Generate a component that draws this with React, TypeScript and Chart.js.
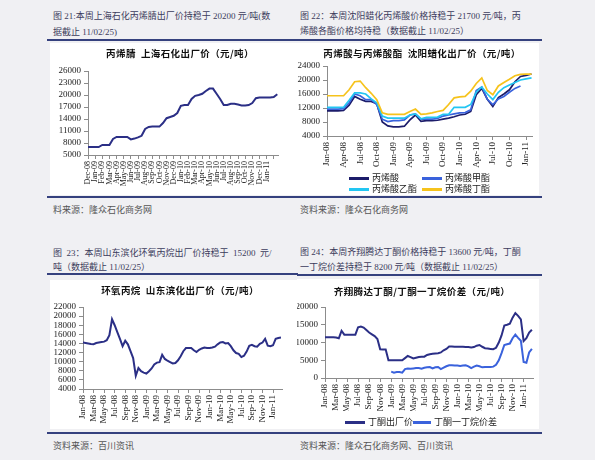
import React, { useEffect, useRef } from 'react';
import { Chart, registerables } from 'chart.js';

Chart.register(...registerables);

// ---------- Chart 1: 丙烯腈 上海石化出厂价 (half-month points from Dec-08) ----------
const C1_LABELS = ['Dec-08', 'Jan-09', 'Feb-09', 'Mar-09', 'Apr-09', 'May-09', 'Jun-09', 'Jul-09', 'Aug-09', 'Sep-09', 'Oct-09', 'Nov-09', 'Dec-09', 'Jan-10', 'Feb-10', 'Mar-10', 'Apr-10', 'May-10', 'Jun-10', 'Jul-10', 'Aug-10', 'Sep-10', 'Oct-10', 'Nov-10', 'Dec-10', 'Jan-11'];
const C1_ACN = [7000, 7000, 7000, 7000, 7500, 7500, 7500, 9000, 9500, 9500, 9500, 9500, 8900, 9100, 9400, 9800, 11500, 12000, 12100, 12100, 12100, 13000, 14200, 14500, 14800, 15500, 17300, 17500, 17500, 19000, 19800, 20000, 20300, 21000, 21600, 21600, 20300, 19000, 17500, 17500, 17800, 17800, 17600, 17400, 17400, 17500, 18000, 19200, 19400, 19400, 19400, 19400, 19500, 20200];

// ---------- Chart 2: 丙烯酸与丙烯酸酯 (monthly points from Jan-08) ----------
const C2_LABELS = ['Jan-08', 'Apr-08', 'Jul-08', 'Oct-08', 'Jan-09', 'Apr-09', 'Jul-09', 'Oct-09', 'Jan-10', 'Apr-10', 'Jul-10', 'Oct-10', 'Jan-11'];
const C2_AA = [11200, 11200, 11200, 11300, 12800, 15300, 14500, 13900, 13900, 13200, 8000, 6900, 6600, 6600, 6800, 8600, 10000, 8200, 8400, 8400, 8500, 8800, 9100, 9500, 10000, 10200, 11000, 15800, 17600, 14500, 12400, 15000, 16000, 17200, 19500, 21000, 21300, 21700];
const C2_MA = [11700, 11700, 11700, 11800, 13500, 16000, 15500, 14400, 14400, 13000, 8800, 8100, 8400, 8400, 8600, 10000, 10300, 8800, 8800, 8800, 9000, 9700, 10000, 10300, 10600, 10700, 11500, 17000, 18000, 14500, 13000, 14600, 15300, 16500, 17600, 18300, null, null];
const C2_EA = [12200, 12200, 12200, 12200, 14200, 16300, 16300, 16000, 14600, 13500, 9700, 9100, 9100, 9100, 9100, 10000, 10300, 8900, 9300, 9300, 9400, 10200, 10200, 12200, 12200, 12200, 13000, 16500, 18000, 16000, 14400, 16500, 17800, 18600, 19300, 20000, 20300, 20600];
const C2_BA = [15500, 15500, 15500, 15500, 17200, 19500, 19700, 17800, 16200, 14400, 10600, 10200, 10200, 10200, 10200, 11000, 11700, 10200, 10300, 10600, 11000, 11300, 13000, 14900, 15200, 15300, 16800, 19000, 20600, 17000, 15800, 18300, 19300, 20200, 21200, 21600, 21700, 21700];

// ---------- Chart 3: 环氧丙烷 山东滨化出厂价 (half-month points from Jan-08) ----------
const C3_LABELS = ['Jan-08', 'Mar-08', 'May-08', 'Jul-08', 'Sep-08', 'Nov-08', 'Jan-09', 'Mar-09', 'May-09', 'Jul-09', 'Sep-09', 'Nov-09', 'Jan-10', 'Mar-10', 'May-10', 'Jul-10', 'Sep-10', 'Nov-10', 'Jan-11'];
const C3_PO = [14200, 14100, 14000, 13900, 13850, 14100, 14200, 14300, 14400, 14700, 15800, 19300, 18000, 16500, 15000, 13400, 14600, 13800, 12300, 10800, 6900, 8600, 7900, 7600, 7400, 7900, 8500, 9400, 9800, 9900, 11500, 10600, 10200, 9900, 9600, 9700, 10300, 11200, 12300, 13000, 13000, 13000, 12500, 12100, 12600, 12900, 13100, 13000, 13000, 13100, 13300, 13800, 14200, 14300, 14000, 14100, 13400, 12500, 11900, 11700, 11000, 11300, 12200, 13500, 13700, 13400, 13300, 13900, 14200, 15000, 13500, 13400, 13600, 15000, 15200, 15300];

// ---------- Chart 4: 齐翔腾达丁酮 / 丁酮一丁烷价差 (half-month points from Jan-08) ----------
const C4_LABELS = C3_LABELS;
const C4_MEK = [11500, 11500, 11500, 11500, 11400, 11200, 13300, 12200, 12200, 12200, 12200, 12200, 14300, 14500, 14200, 13500, 12800, 12300, 11800, 11000, 8100, 8000, 8000, 5000, 5000, 5000, 5000, 5000, 5000, 5600, 6200, 5900, 5500, 5700, 5900, 6000, 6000, 6500, 6700, 6800, 6900, 7000, 7200, 7800, 8200, 8900, 8900, 8800, 8800, 8800, 8800, 8700, 8700, 8600, 8700, 9100, 9300, 8800, 8400, 8300, 8200, 8100, 8500, 10000, 12000, 14800, 15000, 15300, 17000, 18300, 17500, 16500, 10400, 11200, 12800, 13600];
const C4_SPREAD = [null, null, null, null, null, null, null, null, null, null, null, null, null, null, null, null, null, null, null, null, null, null, null, null, 1800, 1500, 1700, 1700, 1500, 2500, 2700, 2600, 2700, 2800, 2800, 2600, 2900, 3000, 3100, 2700, 3000, 3100, 2500, 2900, 3300, 3600, 3600, 3500, 3500, 3400, 3500, 3600, 3300, 2800, 3200, 3500, 3300, 3000, 3100, 3100, 3100, 3200, 3700, 5000, 7000, 9300, 9500, 9700, 11200, 12200, 11300, 10500, 4500, 4300, 7200, 8200];

const NAVY = '#2b2f86';
const DARK_NAVY = '#1c1c6a';
const MID_BLUE = '#3a62dc';
const CYAN = '#22c6f2';
const GOLD = '#f6c31c';
const RULE = '#35417e';
const SERIF = "'Liberation Serif', 'Noto Sans CJK SC', serif";
const CJK = "'Noto Sans CJK SC', 'Liberation Sans', sans-serif";

type Series = { label: string; data: (number | null)[]; color: string; width: number };
type Cfg = {
  left: number; top: number; width: number; height: number;
  pad: { top: number; right: number; bottom: number; left: number };
  yWidth: number; xHeight: number;
  yMin: number; yMax: number; yStep: number;
  xMax: number; xStep: number; xLabels: string[]; dx: number; xFont: number;
  series: Series[];
};

function LineChart({ cfg }: { cfg: Cfg }) {
  const ref = useRef<HTMLCanvasElement>(null);
  useEffect(() => {
    const axisColor = '#8c8c8c';
    const serifTicks = "'Liberation Serif', 'Times New Roman', serif";
    const chart = new Chart(ref.current as HTMLCanvasElement, {
      type: 'line',
      data: {
        datasets: cfg.series.map((s) => ({
          label: s.label,
          data: s.data.map((v, i) => ({ x: i * cfg.dx, y: v })),
          borderColor: s.color,
          backgroundColor: s.color,
          borderWidth: s.width,
          pointRadius: 0,
          tension: 0,
          fill: false,
          spanGaps: false,
        })),
      },
      options: {
        animation: false,
        responsive: false,
        maintainAspectRatio: false,
        layout: { padding: cfg.pad },
        plugins: { legend: { display: false }, title: { display: false }, tooltip: { enabled: false } },
        scales: {
          x: {
            type: 'linear',
            min: 0,
            max: cfg.xMax,
            afterFit: (s: any) => { s.height = cfg.xHeight; },
            grid: { display: true, drawOnChartArea: false, drawTicks: true, tickLength: 4, color: axisColor },
            border: { display: true, color: axisColor },
            ticks: {
              stepSize: cfg.xStep,
              autoSkip: false,
              includeBounds: false,
              minRotation: 90,
              maxRotation: 90,
              padding: 2,
              color: '#222',
              font: { family: serifTicks, size: cfg.xFont },
              callback: (v: any) => cfg.xLabels[Math.round(Number(v) / cfg.xStep)] ?? '',
            },
          },
          y: {
            type: 'linear',
            min: cfg.yMin,
            max: cfg.yMax,
            afterFit: (s: any) => { s.width = cfg.yWidth; },
            grid: { display: true, drawOnChartArea: false, drawTicks: true, tickLength: 4, color: axisColor },
            border: { display: true, color: axisColor },
            ticks: {
              stepSize: cfg.yStep,
              autoSkip: false,
              padding: 3,
              color: '#222',
              font: { family: serifTicks, size: 9 },
              callback: (v: any) => String(v),
            },
          },
        },
      } as any,
    });
    return () => chart.destroy();
  }, [cfg]);
  return (
    <canvas
      ref={ref}
      width={cfg.width}
      height={cfg.height}
      style={{ position: 'absolute', left: cfg.left, top: cfg.top, width: cfg.width, height: cfg.height }}
    />
  );
}

const CFG1: Cfg = {
  left: 50, top: 43, width: 247, height: 152,
  pad: { top: 28, right: 19, bottom: 0, left: 0 }, yWidth: 38, xHeight: 40,
  yMin: 5000, yMax: 26000, yStep: 3000,
  xMax: 26.6, xStep: 1, xLabels: C1_LABELS, dx: 0.5, xFont: 8,
  series: [{ label: '丙烯腈', data: C1_ACN, color: NAVY, width: 2 }],
};
const CFG2: Cfg = {
  left: 297, top: 43, width: 242, height: 152,
  pad: { top: 23, right: 6, bottom: 24, left: 0 }, yWidth: 30, xHeight: 35,
  yMin: 4000, yMax: 24000, yStep: 4000,
  xMax: 37.2, xStep: 3, xLabels: C2_LABELS, dx: 1, xFont: 9,
  series: [
    { label: '丙烯酸丁酯', data: C2_BA, color: GOLD, width: 1.7 },
    { label: '丙烯酸乙酯', data: C2_EA, color: CYAN, width: 1.7 },
    { label: '丙烯酸甲酯', data: C2_MA, color: MID_BLUE, width: 1.7 },
    { label: '丙烯酸', data: C2_AA, color: DARK_NAVY, width: 1.7 },
  ],
};
const CFG3: Cfg = {
  left: 50, top: 280, width: 247, height: 149,
  pad: { top: 27, right: 15, bottom: 0, left: 0 }, yWidth: 33, xHeight: 40,
  yMin: 4000, yMax: 22000, yStep: 2000,
  xMax: 37.7, xStep: 2, xLabels: C3_LABELS, dx: 0.5, xFont: 9,
  series: [{ label: '环氧丙烷', data: C3_PO, color: NAVY, width: 2 }],
};
const CFG4: Cfg = {
  left: 297, top: 279, width: 242, height: 150,
  pad: { top: 28, right: 6, bottom: 18, left: 0 }, yWidth: 28, xHeight: 33,
  yMin: 0, yMax: 20000, yStep: 5000,
  xMax: 37.7, xStep: 2, xLabels: C4_LABELS, dx: 0.5, xFont: 9,
  series: [
    { label: '丁酮一丁烷价差', data: C4_SPREAD, color: MID_BLUE, width: 2 },
    { label: '丁酮出厂价', data: C4_MEK, color: NAVY, width: 2 },
  ],
};

const abs = (left: number, top: number, extra: React.CSSProperties = {}): React.CSSProperties => ({ position: 'absolute', left, top, ...extra });

function Text({ x, y, children, color = '#3c3c5c', size = 9, bold = false, family = SERIF }: any) {
  return (
    <div style={abs(x, y - 7, { fontSize: size, lineHeight: '14px', height: 14, whiteSpace: 'pre', color, fontFamily: family, fontWeight: bold ? 700 : 400 })}>
      {children}
    </div>
  );
}

function CTitle({ cx, cy, children }: any) {
  return (
    <div style={abs(cx - 150, cy - 7, { width: 300, textAlign: 'center', fontSize: 9.5, lineHeight: '14px', whiteSpace: 'pre', color: '#111', fontFamily: CJK, fontWeight: 700, letterSpacing: 0.4 })}>
      {children}
    </div>
  );
}

function Rule({ x, y, w }: any) {
  return <div style={abs(x, y, { width: w, height: 2, background: RULE })} />;
}

function Panel({ x, y, w, h }: any) {
  return <div style={abs(x, y, { width: w, height: h, background: '#ffffff' })} />;
}

function LegendItem({ x, y, color, text, len = 20 }: any) {
  return (
    <>
      <div style={abs(x, y - 1, { width: len, height: 2.5, background: color })} />
      <div style={abs(x + len + 3, y - 7, { fontSize: 9, lineHeight: '14px', whiteSpace: 'pre', color: '#222', fontFamily: CJK })}>{text}</div>
    </>
  );
}

export default function App() {
  return (
    <div style={{ position: 'fixed', left: 0, top: 0, width: 595, height: 460, background: '#f0f0f3', overflow: 'hidden' }}>
      {/* Quadrant 1 */}
      <Text x={53} y={16}>{'图 21:本周上海石化丙烯腈出厂价持稳于 20200 元/吨(数'}</Text>
      <Text x={53} y={31.5}>{'据截止 11/02/25)'}</Text>
      <Rule x={47} y={39} w={251} />
      <Panel x={50} y={43} w={247} h={152} />
      <Rule x={47} y={196} w={251} />
      <Text x={53} y={210} color="#555">{'料来源：隆众石化商务网'}</Text>

      {/* Quadrant 2 */}
      <Text x={300} y={16}>{'图 22：本周沈阳蜡化丙烯酸价格持稳于 21700 元/吨，丙'}</Text>
      <Text x={300} y={31}>{'烯酸各酯价格均持稳（数据截止 11/02/25）'}</Text>
      <Rule x={297} y={39} w={245} />
      <Panel x={297} y={43} w={242} h={152} />
      <Rule x={297} y={196} w={245} />
      <Text x={300} y={210} color="#555">{'资料来源：隆众石化商务网'}</Text>

      {/* Quadrant 3 */}
      <Text x={53} y={252.5}>{'图  23：本周山东滨化环氧丙烷出厂价持稳于  15200  元/'}</Text>
      <Text x={53} y={267}>{'吨（数据截止 11/02/25）'}</Text>
      <Rule x={47} y={273} w={251} />
      <Panel x={50} y={280} w={247} h={149} />
      <Rule x={47} y={431.5} w={251} />
      <Text x={53} y={446} color="#555">{'资料来源：百川资讯'}</Text>

      {/* Quadrant 4 */}
      <Text x={300} y={252}>{'图 24：本周齐翔腾达丁酮价格持稳于 13600 元/吨，丁酮'}</Text>
      <Text x={300} y={267}>{'一丁烷价差持稳于 8200 元/吨（数据截止 11/02/25）'}</Text>
      <Rule x={297} y={274} w={245} />
      <Panel x={297} y={279} w={242} h={150} />
      <Rule x={297} y={431.5} w={245} />
      <Text x={300} y={446} color="#555">{'资料来源：隆众石化商务网、百川资讯'}</Text>

      <LineChart cfg={CFG1} />
      <LineChart cfg={CFG2} />
      <LineChart cfg={CFG3} />
      <LineChart cfg={CFG4} />

      <CTitle cx={180} cy={53}>{'丙烯腈  上海石化出厂价（元/吨）'}</CTitle>
      <CTitle cx={422} cy={53}>{'丙烯酸与丙烯酸酯  沈阳蜡化出厂价（元/吨）'}</CTitle>
      <CTitle cx={180} cy={290}>{'环氧丙烷  山东滨化出厂价（元/吨）'}</CTitle>
      <CTitle cx={422} cy={291}>{'齐翔腾达丁酮/丁酮一丁烷价差（元/吨）'}</CTitle>

      <LegendItem x={349} y={178} color={DARK_NAVY} text="丙烯酸" />
      <LegendItem x={422} y={178} color={MID_BLUE} text="丙烯酸甲酯" />
      <LegendItem x={349} y={189} color={CYAN} text="丙烯酸乙酯" />
      <LegendItem x={422} y={189} color={GOLD} text="丙烯酸丁酯" />

      <LegendItem x={345} y={422} color={NAVY} text="丁酮出厂价" len={20} />
      <LegendItem x={413} y={422} color={MID_BLUE} text="丁酮一丁烷价差" len={18} />
    </div>
  );
}
